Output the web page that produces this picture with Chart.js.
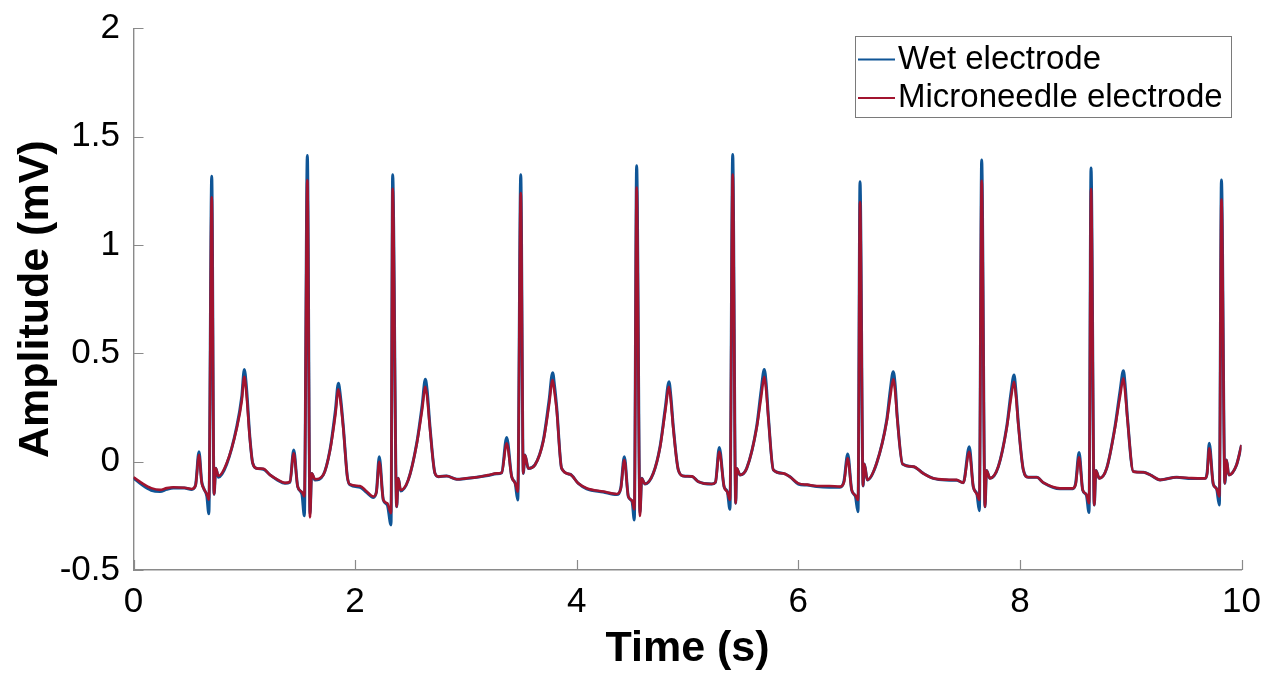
<!DOCTYPE html>
<html>
<head>
<meta charset="utf-8">
<title>ECG comparison</title>
<script src="https://cdn.jsdelivr.net/npm/chart.js@4.4.1/dist/chart.umd.min.js"></script>
<style>
  html, body { margin: 0; padding: 0; background: #ffffff; }
  #wrap { width: 1266px; height: 675px; }
  canvas { display: block; }
</style>
</head>
<body>
<div id="wrap"><canvas id="ecg" width="1266" height="675"></canvas></div>
<script>
// Sample times (s), shared by both recordings
const timeS = [
  0.000, 0.080, 0.160, 0.240, 0.300, 0.360, 0.460, 0.525, 0.560,
  0.591, 0.615, 0.635, 0.662, 0.680, 0.706, 0.727, 0.743, 0.766, 0.841, 0.931, 0.977, 1.000, 1.020, 1.050, 1.076, 1.112, 1.172, 1.232, 1.300, 1.367, 1.412,
  1.446, 1.482, 1.520, 1.542, 1.569, 1.593, 1.608, 1.638, 1.713, 1.773, 1.823, 1.849, 1.868, 1.894, 1.930, 1.954, 2.044, 2.100, 2.164, 2.192,
  2.218, 2.255, 2.291, 2.324, 2.339, 2.375, 2.390, 2.411, 2.480, 2.556, 2.605, 2.634, 2.650, 2.676, 2.721, 2.751, 2.827, 2.917, 3.000, 3.097, 3.200, 3.278, 3.323,
  3.368, 3.413, 3.445, 3.468, 3.495, 3.518, 3.533, 3.563, 3.623, 3.699, 3.750, 3.783, 3.800, 3.819, 3.864, 3.940, 4.014, 4.090, 4.240, 4.361, 4.398,
  4.430, 4.466, 4.500, 4.520, 4.541, 4.571, 4.587, 4.616, 4.691, 4.752, 4.800, 4.833, 4.850, 4.872, 4.917, 4.962, 5.040, 5.097, 5.218, 5.252,
  5.287, 5.330, 5.360, 5.383, 5.408, 5.435, 5.444, 5.474, 5.534, 5.624, 5.665, 5.693, 5.710, 5.730, 5.775, 5.865, 5.925, 6.000, 6.080, 6.166, 6.280, 6.376, 6.412,
  6.446, 6.482, 6.515, 6.539, 6.557, 6.585, 6.596, 6.623, 6.707, 6.798, 6.830, 6.857, 6.875, 6.893, 6.941, 7.038, 7.128, 7.218, 7.330, 7.429, 7.489,
  7.543, 7.579, 7.612, 7.634, 7.655, 7.685, 7.699, 7.729, 7.805, 7.881, 7.920, 7.947, 7.965, 7.986, 8.031, 8.076, 8.152, 8.212, 8.362, 8.477, 8.503,
  8.534, 8.567, 8.600, 8.624, 8.642, 8.671, 8.686, 8.716, 8.783, 8.858, 8.905, 8.934, 8.952, 8.970, 9.024, 9.114, 9.180, 9.265, 9.415, 9.550, 9.671, 9.690,
  9.709, 9.745, 9.775, 9.800, 9.819, 9.850, 9.865, 9.885, 9.955, 10.000
];

// Wet electrode amplitude (mV)
const wetMv = [
  -0.075, -0.108, -0.132, -0.138, -0.128, -0.122, -0.122, -0.128, -0.108,
  0.046, -0.090, -0.125, -0.160, -0.240, 1.318, -0.150, -0.030, -0.072, -0.012, 0.160, 0.300, 0.426, 0.340, 0.115, -0.007, -0.031, -0.035, -0.061, -0.085, -0.100, -0.095,
  0.054, -0.115, -0.150, -0.250, 1.413, -0.240, -0.054, -0.085, -0.061, 0.054, 0.240, 0.362, 0.300, 0.160, -0.070, -0.107, -0.118, -0.140, -0.165, -0.140,
  0.023, -0.177, -0.200, -0.292, 1.325, -0.208, -0.077, -0.135, -0.084, 0.085, 0.260, 0.380, 0.330, 0.161, -0.054, -0.069, -0.066, -0.081, -0.078, -0.072, -0.064, -0.056, -0.051,
  0.112, -0.069, -0.100, -0.177, 1.325, -0.054, 0.031, -0.031, -0.015, 0.100, 0.280, 0.411, 0.350, 0.254, -0.031, -0.058, -0.100, -0.125, -0.140, -0.152, -0.120,
  0.023, -0.161, -0.185, -0.269, 1.366, -0.235, -0.077, -0.103, -0.054, 0.069, 0.250, 0.369, 0.300, 0.161, -0.038, -0.066, -0.068, -0.092, -0.103, -0.095,
  0.066, -0.115, -0.140, -0.220, 1.418, -0.192, -0.031, -0.061, -0.031, 0.161, 0.330, 0.426, 0.360, 0.208, -0.038, -0.054, -0.070, -0.103, -0.108, -0.115, -0.118, -0.118, -0.090,
  0.036, -0.131, -0.160, -0.231, 1.292, -0.112, -0.011, -0.084, -0.007, 0.192, 0.330, 0.415, 0.350, 0.208, -0.011, -0.023, -0.054, -0.077, -0.085, -0.086, -0.097,
  0.069, -0.115, -0.150, -0.226, 1.393, -0.208, -0.041, -0.077, -0.023, 0.161, 0.320, 0.400, 0.320, 0.177, -0.038, -0.072, -0.072, -0.097, -0.125, -0.125, -0.100,
  0.042, -0.131, -0.155, -0.235, 1.356, -0.200, -0.041, -0.077, -0.031, 0.161, 0.330, 0.420, 0.340, 0.208, -0.046, -0.049, -0.062, -0.084, -0.072, -0.078, -0.077, -0.050,
  0.085, -0.103, -0.125, -0.200, 1.300, -0.100, 0.008, -0.061, -0.015, 0.077
];

// Microneedle electrode amplitude (mV)
const microMv = [
  -0.072, -0.100, -0.122, -0.130, -0.122, -0.118, -0.120, -0.126, -0.110,
  0.031, -0.095, -0.125, -0.150, -0.175, 1.220, -0.150, -0.030, -0.066, -0.007, 0.152, 0.280, 0.392, 0.310, 0.108, -0.007, -0.031, -0.033, -0.061, -0.083, -0.098, -0.092,
  0.039, -0.115, -0.140, -0.160, 1.300, -0.257, -0.054, -0.081, -0.061, 0.050, 0.220, 0.334, 0.280, 0.150, -0.070, -0.105, -0.112, -0.135, -0.161, -0.142,
  0.000, -0.177, -0.192, -0.238, 1.260, -0.208, -0.077, -0.131, -0.084, 0.080, 0.240, 0.346, 0.300, 0.150, -0.054, -0.069, -0.066, -0.081, -0.077, -0.072, -0.062, -0.054, -0.051,
  0.085, -0.069, -0.100, -0.138, 1.240, -0.054, 0.031, -0.031, -0.015, 0.095, 0.260, 0.377, 0.320, 0.240, -0.031, -0.058, -0.100, -0.123, -0.138, -0.149, -0.125,
  0.008, -0.161, -0.180, -0.220, 1.265, -0.250, -0.077, -0.103, -0.054, 0.065, 0.235, 0.346, 0.280, 0.150, -0.038, -0.066, -0.068, -0.092, -0.103, -0.095,
  0.046, -0.115, -0.140, -0.177, 1.325, -0.192, -0.031, -0.061, -0.031, 0.155, 0.300, 0.392, 0.330, 0.200, -0.038, -0.054, -0.070, -0.100, -0.106, -0.112, -0.112, -0.115, -0.095,
  0.016, -0.131, -0.155, -0.177, 1.198, -0.112, -0.011, -0.084, -0.007, 0.185, 0.300, 0.380, 0.320, 0.200, -0.011, -0.023, -0.054, -0.077, -0.083, -0.084, -0.097,
  0.046, -0.115, -0.150, -0.177, 1.296, -0.208, -0.041, -0.077, -0.023, 0.155, 0.295, 0.369, 0.300, 0.170, -0.038, -0.072, -0.072, -0.097, -0.123, -0.123, -0.105,
  0.020, -0.131, -0.150, -0.192, 1.258, -0.200, -0.041, -0.077, -0.031, 0.155, 0.305, 0.385, 0.310, 0.200, -0.046, -0.049, -0.062, -0.084, -0.072, -0.076, -0.077, -0.055,
  0.062, -0.103, -0.125, -0.161, 1.210, -0.100, 0.008, -0.061, -0.015, 0.077
];

const seriesNames = ['Wet electrode', 'Microneedle electrode'];
const xTickValues = [0, 2, 4, 6, 8, 10];
const yTickValues = [-0.5, 0, 0.5, 1, 1.5, 2];
const xTitle = 'Time (s)';
const yTitle = 'Amplitude (mV)';

const FONT = "'Liberation Sans', Arial, Helvetica, sans-serif";
const AXIS_GRAY = '#8a8a8a';
const WET_COLOR = '#0f5596';
const MICRO_COLOR = '#a2142f';

const toPoints = vals => timeS.map((t, i) => ({ x: t, y: vals[i] }));

// Inward (MATLAB-style) tick marks on both axes
const inwardTicks = {
  id: 'inwardTicks',
  afterDatasetsDraw(chart) {
    const { ctx, chartArea: ca, scales: { x, y } } = chart;
    ctx.save();
    ctx.strokeStyle = AXIS_GRAY;
    ctx.lineWidth = 1.2;
    ctx.beginPath();
    yTickValues.forEach(v => {
      const py = Math.round(y.getPixelForValue(v)) + 0.5;
      ctx.moveTo(ca.left, py);
      ctx.lineTo(ca.left + 10, py);
    });
    xTickValues.forEach(v => {
      const px = Math.round(x.getPixelForValue(v)) + 0.5;
      ctx.moveTo(px, ca.bottom);
      ctx.lineTo(px, ca.bottom - 10);
    });
    ctx.stroke();
    ctx.restore();
  }
};

// Boxed legend in the upper-right corner of the plot
const boxedLegend = {
  id: 'boxedLegend',
  afterDraw(chart) {
    const { ctx, chartArea: ca } = chart;
    const bx = ca.right - 386.5, by = ca.top + 8, bw = 376, bh = 81;
    ctx.save();
    ctx.fillStyle = '#ffffff';
    ctx.fillRect(bx, by, bw, bh);
    ctx.strokeStyle = '#7a7a7a';
    ctx.lineWidth = 1;
    ctx.strokeRect(Math.round(bx) + 0.5, Math.round(by) + 0.5, bw, bh);
    ctx.font = '33px ' + FONT;
    ctx.textBaseline = 'alphabetic';
    ctx.textAlign = 'left';
    chart.data.datasets.forEach((ds, i) => {
      const ly = by + 23 + i * 38.5;
      ctx.strokeStyle = ds.borderColor;
      ctx.lineWidth = 2;
      ctx.beginPath();
      ctx.moveTo(bx + 3, ly);
      ctx.lineTo(bx + 40, ly);
      ctx.stroke();
      ctx.fillStyle = '#000000';
      ctx.fillText(ds.label, bx + 43, ly + 9.5);
    });
    ctx.restore();
  }
};

new Chart(document.getElementById('ecg'), {
  type: 'line',
  data: {
    datasets: [
      {
        label: seriesNames[0],
        data: toPoints(wetMv),
        borderColor: WET_COLOR,
        borderWidth: 3,
        pointRadius: 0,
        cubicInterpolationMode: 'monotone',
        fill: false,
        order: 2
      },
      {
        label: seriesNames[1],
        data: toPoints(microMv),
        borderColor: MICRO_COLOR,
        borderWidth: 2.6,
        pointRadius: 0,
        cubicInterpolationMode: 'monotone',
        fill: false,
        order: 1
      }
    ]
  },
  options: {
    responsive: false,
    animation: false,
    devicePixelRatio: 1,
    layout: { padding: { top: 28.4, right: 24.5, left: 0, bottom: 0 } },
    plugins: {
      legend: { display: false },
      tooltip: { enabled: false }
    },
    scales: {
      x: {
        type: 'linear',
        min: 0,
        max: 10,
        afterBuildTicks: s => { s.ticks = xTickValues.map(v => ({ value: v })); },
        afterFit: s => { s.height = 105; s.paddingLeft = 0; s.paddingRight = 0; },
        grid: { display: false, drawTicks: false },
        border: { display: true, color: AXIS_GRAY, width: 1.4 },
        ticks: {
          font: { family: FONT, size: 35 },
          color: '#000000',
          padding: 11.5,
          maxRotation: 0,
          autoSkip: false,
          callback: v => String(v)
        },
        title: {
          display: true,
          text: xTitle,
          color: '#000000',
          font: { family: FONT, size: 43, weight: 'bold' },
          padding: { top: 0, bottom: 0 }
        }
      },
      y: {
        type: 'linear',
        min: -0.5,
        max: 2,
        afterBuildTicks: s => { s.ticks = yTickValues.map(v => ({ value: v })); },
        afterFit: s => { s.width = 133.5; s.paddingTop = 0; s.paddingBottom = 0; },
        grid: { display: false, drawTicks: false },
        border: { display: true, color: AXIS_GRAY, width: 1.4 },
        ticks: {
          font: { family: FONT, size: 35 },
          color: '#000000',
          padding: 13.5,
          autoSkip: false,
          callback: v => String(v)
        },
        title: {
          display: true,
          text: yTitle,
          color: '#000000',
          font: { family: FONT, size: 43, weight: 'bold' },
          padding: { top: 10, bottom: 0 }
        }
      }
    }
  },
  plugins: [inwardTicks, boxedLegend]
});
</script>
</body>
</html>
